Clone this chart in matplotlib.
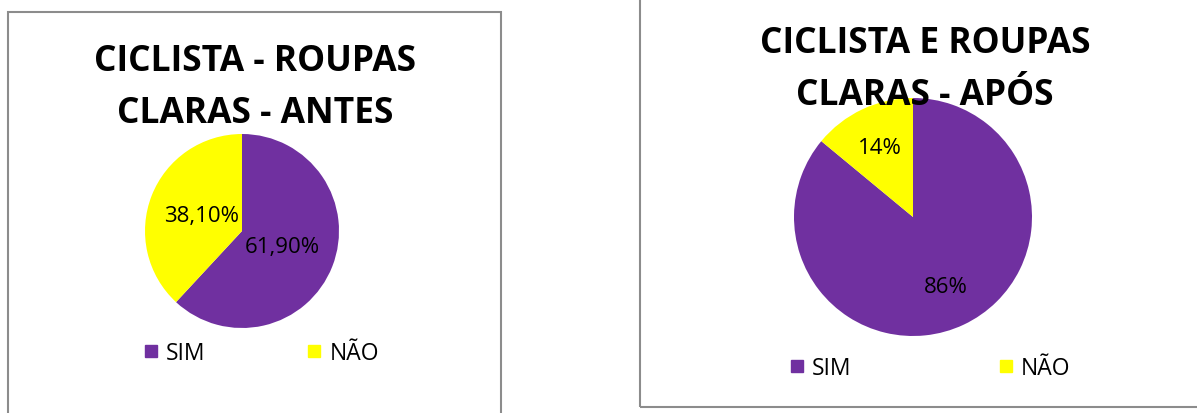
import matplotlib
matplotlib.use("Agg")
import numpy as np
import matplotlib.pyplot as plt
from matplotlib.patches import Rectangle
from matplotlib.lines import Line2D

plt.rcParams['font.family'] = ['Open Sans', 'DejaVu Sans']

# data
categories = ["SIM", "NÃO"]
antes_vals = [61.90, 38.10]
antes_labels = ["61,90%", "38,10%"]
apos_vals = [86, 14]
apos_labels = ["86%", "14%"]
colors = ["#7030A0", "#FFFF00"]

W, H = 1197, 414
fig = plt.figure(figsize=(W / 100, H / 100), dpi=100)

def px_axes(cx, cy, r):
    # axes box in figure fractions from pixel centre/radius
    return fig.add_axes([(cx - r) / W, 1 - (cy + r) / H, 2 * r / W, 2 * r / H])

def draw_pie(ax, vals, labels, dists):
    wedges, _ = ax.pie(vals, colors=colors, startangle=90, counterclock=False,
                       radius=1, wedgeprops=dict(linewidth=0))
    for w, lab, d in zip(wedges, labels, dists):
        ang = np.deg2rad((w.theta1 + w.theta2) / 2)
        ax.text(d * np.cos(ang), d * np.sin(ang), lab, ha="center", va="center",
                fontsize=16, color="black")
    ax.set_xlim(-1, 1)
    ax.set_ylim(-1, 1)
    ax.set_aspect("equal")
    ax.axis("off")
    return wedges

# chart borders
fig.patches.append(Rectangle((8 / W, -0.05), 493 / W, 1.05 - 13 / H, transform=fig.transFigure,
                             fill=False, edgecolor="#8c8c8c", linewidth=1.5))
fig.patches.append(Rectangle((640 / W, 1 - 408 / H), 0.5, 1, transform=fig.transFigure,
                             fill=False, edgecolor="#8c8c8c", linewidth=1.5))

# left chart
ax1 = px_axes(242, 232, 97)
draw_pie(ax1, antes_vals, antes_labels, [0.45, 0.45])
fig.text(255 / W, 1 - 88 / H, "CICLISTA - ROUPAS\nCLARAS - ANTES", ha="center", va="center",
         fontsize=25.5, fontweight="bold", linespacing=1.62)

# right chart
ax2 = px_axes(913, 218, 119)
draw_pie(ax2, apos_vals, apos_labels, [0.65, 0.65])
fig.text(925 / W, 1 - 70 / H, "CICLISTA E ROUPAS\nCLARAS - APÓS", ha="center", va="center",
         fontsize=25.5, fontweight="bold", linespacing=1.62)

handles = [Line2D([], [], marker="s", linestyle="", markersize=9, color=c) for c in colors]
fig.legend(handles, categories, loc="center", bbox_to_anchor=(261 / W, 1 - 354 / H), ncol=2,
           frameon=False, fontsize=16.5, handlelength=0.7, handletextpad=0.3, columnspacing=4.4)
fig.legend(handles, categories, loc="center", bbox_to_anchor=(930 / W, 1 - 369 / H), ncol=2,
           frameon=False, fontsize=16.5, handlelength=0.7, handletextpad=0.3, columnspacing=6.4)

fig.savefig("out.png", dpi=100, facecolor="white")
